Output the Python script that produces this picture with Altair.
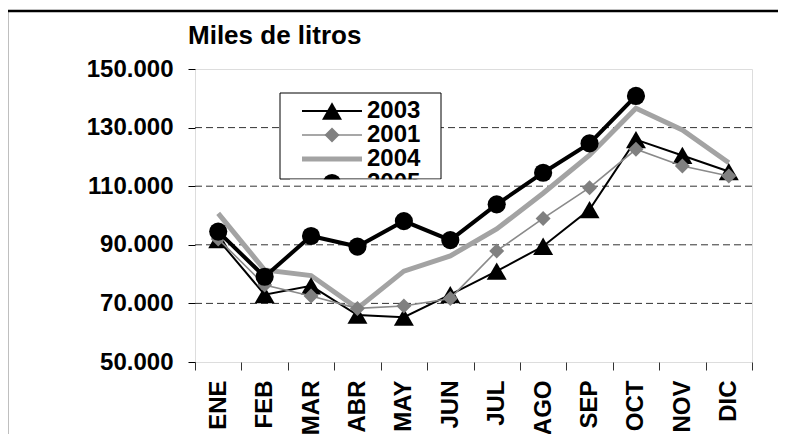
import altair as alt
import pandas as pd

months = ["ENE", "FEB", "MAR", "ABR", "MAY", "JUN", "JUL", "AGO", "SEP", "OCT", "NOV", "DIC"]
v2003 = [91800, 73000, 76000, 66000, 65300, 73000, 81000, 89500, 102000, 125900, 120500, 115000]
v2001 = [92000, 76300, 72500, 68300, 69100, 71700, 87900, 99000, 109500, 122600, 116900, 113500]
v2004 = [100700, 81400, 79500, 68300, 81000, 86200, 95400, 107600, 120600, 136600, 129200, 118000]
v2005 = [94500, 79100, 93000, 89400, 98100, 91600, 103800, 114600, 124600, 140800]
grid_values = [70000, 90000, 110000, 130000]
y_ticks = [50000, 70000, 90000, 110000, 130000, 150000]
legend_years = ["2003", "2001", "2004", "2005"]

FONT = "Liberation Sans"
W, H = 557, 293


def series(vals):
    return pd.DataFrame({"month": months[:len(vals)], "value": vals})


x_enc = alt.X("month:N", sort=months,
              scale=alt.Scale(type="band", paddingInner=0, paddingOuter=0),
              axis=alt.Axis(title=None, labelAngle=-90, labelFont=FONT, labelFontSize=24,
                            labelFontWeight="bold", labelColor="black", tickBand="extent",
                            tickSize=8, tickColor="#333", labelPadding=10, domain=False,
                            grid=False))
y_enc = alt.Y("value:Q", scale=alt.Scale(domain=[50000, 150000], nice=False, zero=False),
              axis=alt.Axis(title=None, values=y_ticks, labelFont=FONT, labelFontSize=24,
                            labelFontWeight="bold", labelColor="black", tickSize=7,
                            tickColor="black", labelPadding=15, domain=False, grid=False,
                            labelExpr="replace(format(datum.value, ','), ',', '.')"))

one = pd.DataFrame({"a": [0]})

# outer border (only top and left edges are inside the picture)
border_top = alt.Chart(one).mark_rule(color="black", strokeWidth=2.5).encode(
    x=alt.value(-188), x2=alt.value(700), y=alt.value(-58))
border_left = alt.Chart(one).mark_rule(color="black", strokeWidth=2.5).encode(
    x=alt.value(-188), y=alt.value(-58), y2=alt.value(500))

grid = alt.Chart(pd.DataFrame({"value": grid_values})).mark_rule(
    color="#333", strokeWidth=1, strokeDash=[7, 4]).encode(y=alt.Y("value:Q"))

l2004 = alt.Chart(series(v2004)).mark_line(color="#a3a3a3", strokeWidth=5).encode(x=x_enc, y=y_enc)
l2003 = alt.Chart(series(v2003)).mark_line(color="black", strokeWidth=2).encode(x=x_enc, y=y_enc)
p2003 = alt.Chart(series(v2003)).mark_point(shape="triangle-up", filled=True, color="black",
                                            size=400, opacity=1).encode(x=x_enc, y=y_enc)
l2001 = alt.Chart(series(v2001)).mark_line(color="#8a8a8a", strokeWidth=1.6).encode(x=x_enc, y=y_enc)
p2001 = alt.Chart(series(v2001)).mark_point(shape="diamond", filled=True, color="#808080",
                                            size=225, opacity=1).encode(x=x_enc, y=y_enc)
l2005 = alt.Chart(series(v2005)).mark_line(color="black", strokeWidth=4).encode(x=x_enc, y=y_enc)
p2005 = alt.Chart(series(v2005)).mark_point(shape="circle", filled=True, color="black",
                                            size=330, opacity=1).encode(x=x_enc, y=y_enc)

title = alt.Chart(one).mark_text(text="Miles de litros", font=FONT, fontSize=26, fontWeight="bold",
                                 align="left", baseline="alphabetic", color="black").encode(
    x=alt.value(-7), y=alt.value(-25))

# manual legend (box clips the last entry)
lx1, lx2, ly1, ly2 = 85, 246, 24, 110
sx1, sx2 = 107, 167
sxc = (sx1 + sx2) / 2
tx = 172
ey = [42, 66, 90, 114]

leg_box = alt.Chart(one).mark_rect(fill="white", stroke="black", strokeWidth=1).encode(
    x=alt.value(lx1), x2=alt.value(lx2), y=alt.value(ly1), y2=alt.value(ly2))


def leg_line(yy, color, width):
    return alt.Chart(one).mark_rule(color=color, strokeWidth=width).encode(
        x=alt.value(sx1), x2=alt.value(sx2), y=alt.value(yy))


def leg_point(yy, shape, color, size):
    return alt.Chart(one).mark_point(shape=shape, filled=True, color=color, size=size, opacity=1).encode(
        x=alt.value(sxc), y=alt.value(yy))


def leg_text(yy, label):
    return alt.Chart(one).mark_text(text=label, font=FONT, fontSize=24, fontWeight="bold",
                                    align="left", baseline="middle", color="black").encode(
        x=alt.value(tx), y=alt.value(yy))


legend_layers = [
    leg_box,
    leg_line(ey[0], "black", 2), leg_point(ey[0], "triangle-up", "black", 400), leg_text(ey[0], legend_years[0]),
    leg_line(ey[1], "#8a8a8a", 1.6), leg_point(ey[1], "diamond", "#808080", 225), leg_text(ey[1], legend_years[1]),
    leg_line(ey[2], "#a3a3a3", 5), leg_text(ey[2], legend_years[2]),
    leg_line(ey[3], "black", 4), leg_point(ey[3], "circle", "black", 330), leg_text(ey[3], legend_years[3]),
]

cover = alt.Chart(one).mark_rect(fill="white", stroke=None).encode(
    x=alt.value(95), x2=alt.value(250), y=alt.value(ly2 + 0.6), y2=alt.value(128))
grid_fix = alt.Chart(one).mark_rule(color="#333", strokeWidth=1, strokeDash=[7, 4],
                                    strokeDashOffset=95 % 11).encode(
    x=alt.value(95), x2=alt.value(250), y=alt.value(H * (150000 - 110000) / 100000))

chart = alt.layer(
    border_top, border_left, grid, l2004, l2003, p2003, l2001, p2001, l2005, p2005, title,
    *legend_layers, cover, grid_fix
).properties(
    width=W, height=H,
    autosize=alt.AutoSizeParams(type="none"),
    padding={"left": 187, "top": 61, "right": 26, "bottom": 72},
).configure_view(stroke="black", strokeWidth=3).configure(background="white")

chart.save("out.html", embed_options={"renderer": "svg", "actions": False})
